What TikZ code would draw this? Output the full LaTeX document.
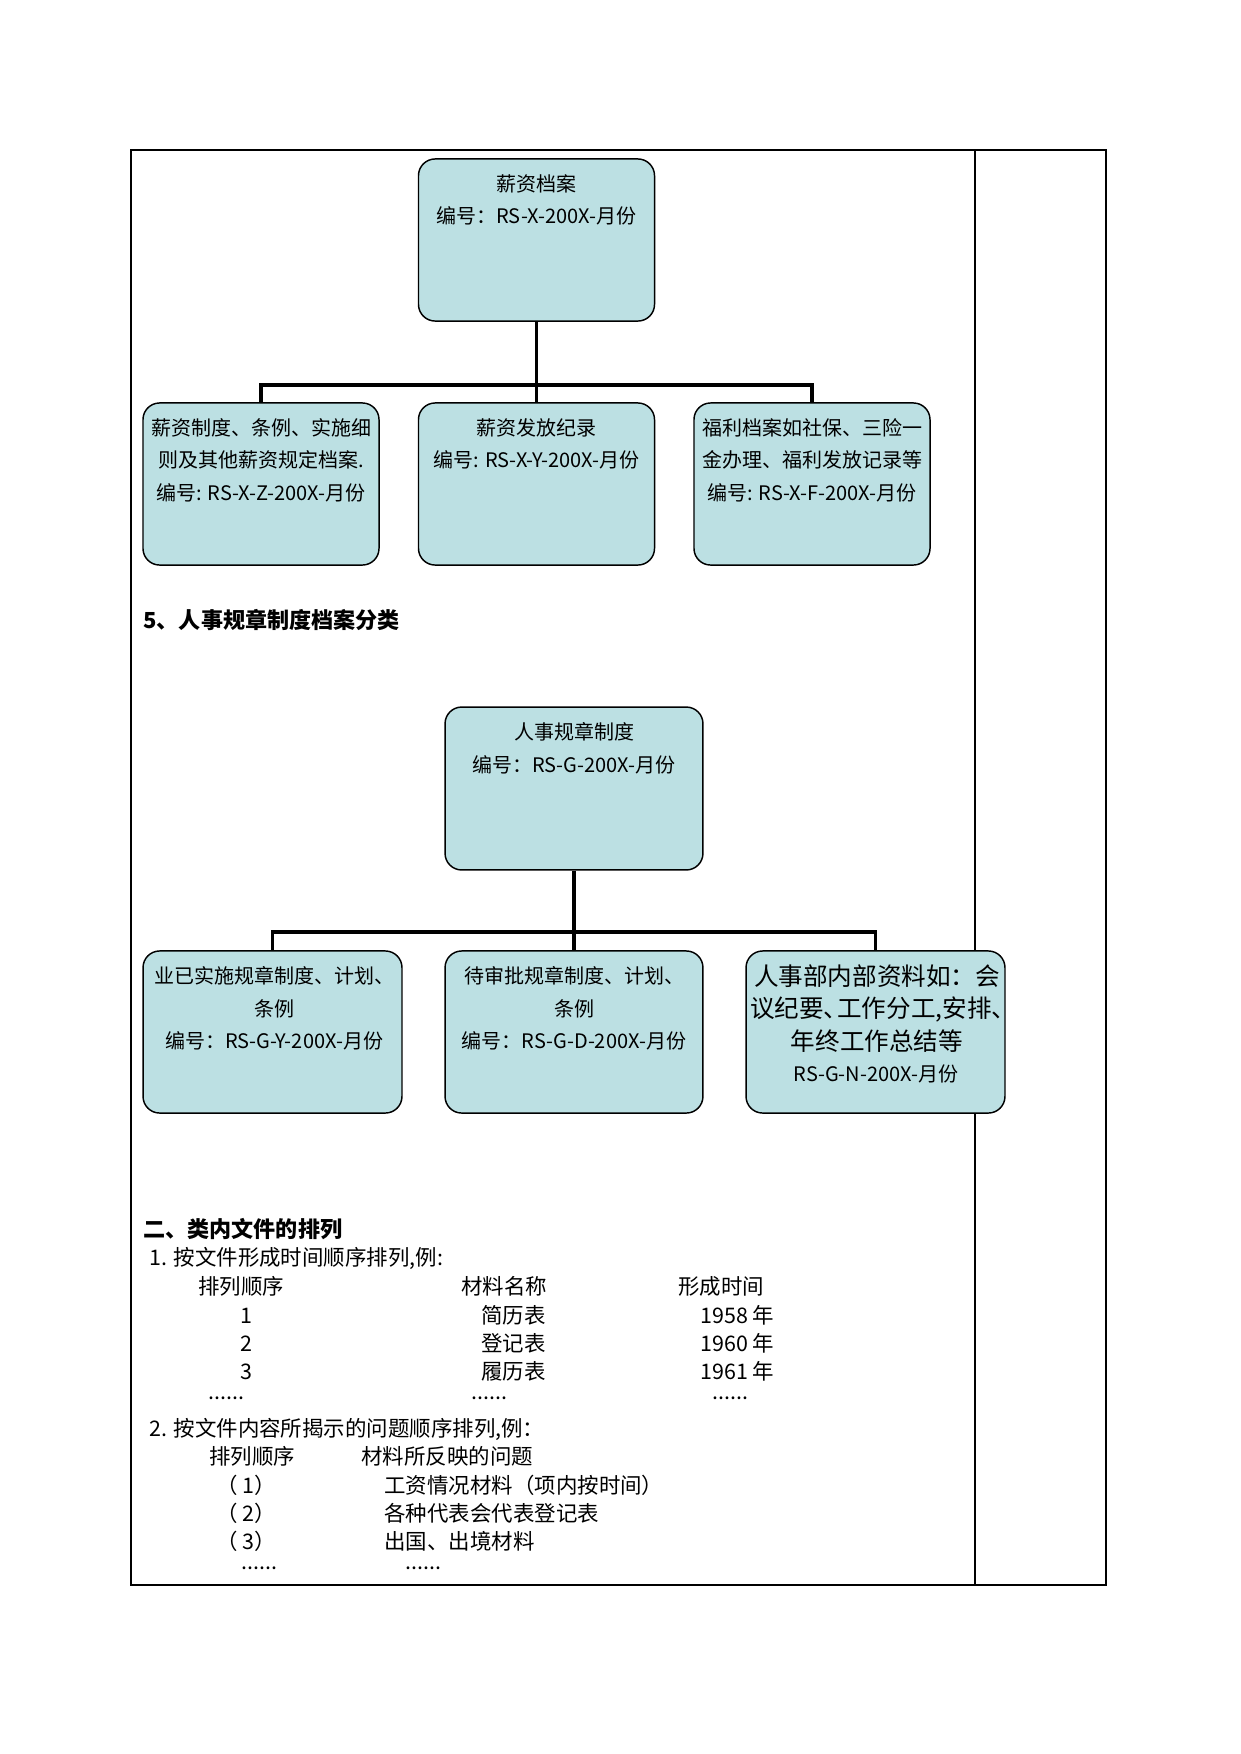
\documentclass[tikz,border=0pt]{standalone}
\usepackage{fontspec}
\setmainfont{Noto Sans CJK SC}
\definecolor{boxfill}{RGB}{188,224,227}
\begin{document}
\begin{tikzpicture}[x=0.48pt,y=-0.48pt,
  box/.style={draw, line width=0.7pt, fill=boxfill, rounded corners=8pt, inner sep=0pt},
  rowA/.style={box, minimum width=113.3pt, minimum height=77.8pt},
  conn/.style={line width=1.9pt},
  txt/.style={inner sep=0pt, align=center, anchor=base, font=\fontsize{9.6pt}{15.6pt}\selectfont},
  body/.style={inner sep=0pt, anchor=base west, font=\fontsize{10.3pt}{12pt}\selectfont},
  head/.style={inner sep=0pt, anchor=base west, font=\fontsize{10.6pt}{12pt}\selectfont\bfseries}]
\useasboundingbox (0,0) rectangle (1241,1754);
% table frame
\draw[line width=0.6pt] (131,150) rectangle (1106,1585);
\draw[line width=1pt] (975,150) -- (975,1585);
\coordinate (busA) at (536.5,385);
\coordinate (busB) at (574,932);
% boxes tree 1
\node[rowA] (a0) at (536.5,240) {};
\node[rowA] (a1) at (261,484) {};
\node[rowA] (a2) at (536.5,484) {};
\node[rowA] (a3) at (812,484) {};
% boxes tree 2
\node[box, minimum width=123.8pt, minimum height=78.2pt] (b0) at (574,788.5) {};
\node[box, minimum width=124.3pt, minimum height=77.8pt] (b1) at (272.5,1032) {};
\node[box, minimum width=123.8pt, minimum height=77.8pt] (b2) at (574,1032) {};
\node[box, minimum width=124.3pt, minimum height=77.8pt] (b3) at (875.5,1032) {};
% connectors
\draw[conn] (a0.south) -- (busA);
\draw[conn] (a1.north) |- (busA) -| (a3.north);
\draw[conn] (busA) -- (a2.north);
\draw[conn] (b0.south) -- (busB);
\draw[conn] (b1.north) |- (busB) -| (b3.north);
\draw[conn] (busB) -- (b2.north);
% box texts (anchor = baseline of last line)
\node[txt] (ta0) at (536.5,223.5) {薪资档案\\编号：RS-X-200X-月份};
\node[txt] (ta1) at (261,500) {薪资制度、条例、实施细\\则及其他薪资规定档案.\\编号: RS-X-Z-200X-月份};
\node[txt] (ta2) at (536.5,467.5) {薪资发放纪录\\编号: RS-X-Y-200X-月份};
\node[txt] (ta3) at (812,500) {福利档案如社保、三险一\\金办理、福利发放记录等\\编号: RS-X-F-200X-月份};
\node[txt] (tb0) at (574,772) {人事规章制度\\编号：RS-G-200X-月份};
\node[txt] (tb1) at (274,1048.5) {业已实施规章制度、计划、\\条例\\编号：RS-G-Y-200X-月份};
\node[txt] (tb2) at (574,1048.5) {待审批规章制度、计划、\\条例\\编号：RS-G-D-200X-月份};
\node[txt, font=\fontsize{11.8pt}{15.6pt}\selectfont] (tb3) at (877,1050) {人事部内部资料如：会\\议纪要、\hspace{-0.45em}工作分工,安排\makebox[0.5em][l]{、}\\年终工作总结等};
\node[txt] (tb3n) at (876,1081.5) {RS-G-N-200X-月份};
% headings and body text
\node[head] (h5) at (143,628) {5、人事规章制度档案分类};
\node[head] (h2) at (143,1237) {二、类内文件的排列};
\node[body] (l1) at (149,1265) {1. 按文件形成时间顺序排列,例:};
\node[body] (c1h) at (198,1294) {排列顺序};
\node[body] (c2h) at (461,1294) {材料名称};
\node[body] (c3h) at (678,1294) {形成时间};
\node[body, anchor=base] (n1) at (246,1323) {1};
\node[body, anchor=base east] (m1) at (546,1323) {简历表};
\node[body] (y1) at (700,1323) {1958 年};
\node[body, anchor=base] (n2) at (246,1351) {2};
\node[body, anchor=base east] (m2) at (546,1351) {登记表};
\node[body] (y2) at (700,1351) {1960 年};
\node[body, anchor=base] (n3) at (246,1379) {3};
\node[body, anchor=base east] (m3) at (546,1379) {履历表};
\node[body] (y3) at (700,1379) {1961 年};
\node[body] (d1) at (208,1399) {......};
\node[body] (d2) at (471,1399) {......};
\node[body] (d3) at (712,1399) {......};
\node[body] (l2) at (149,1436) {2. 按文件内容所揭示的问题顺序排列,例：};
\node[body] (e1h) at (209,1464) {排列顺序};
\node[body] (e2h) at (361,1464) {材料所反映的问题};
\node[body] (p1) at (216,1493) {（ 1）};
\node[body] (q1) at (384,1493) {工资情况材料（项内按时间）};
\node[body] (p2) at (216,1521) {（ 2）};
\node[body] (q2) at (384,1521) {各种代表会代表登记表};
\node[body] (p3) at (216,1549) {（ 3）};
\node[body] (q3) at (384,1549) {出国、出境材料};
\node[body] (d4) at (241,1569) {......};
\node[body] (d5) at (405,1569) {......};
\end{tikzpicture}
\end{document}
